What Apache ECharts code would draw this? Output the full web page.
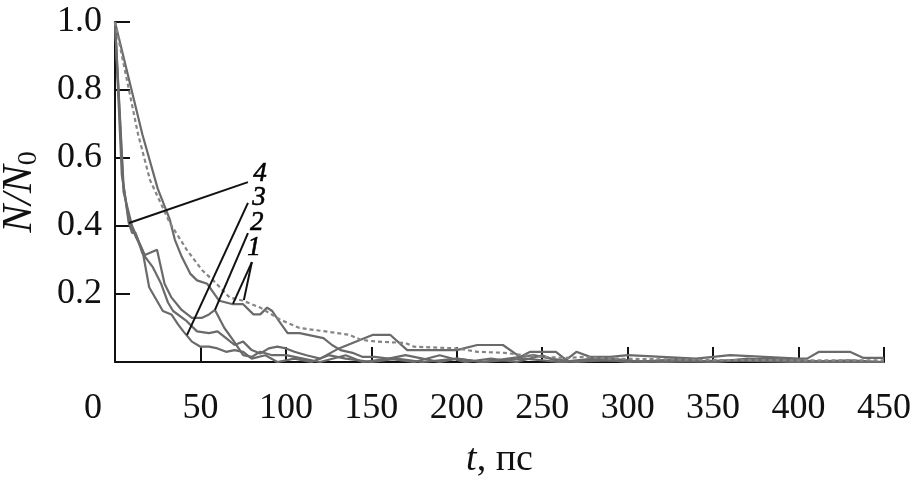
<!DOCTYPE html>
<html><head><meta charset="utf-8">
<script src="https://cdn.jsdelivr.net/npm/echarts@6/dist/echarts.min.js"></script>
<style>html,body{margin:0;padding:0;background:#fff}#c{width:916px;height:477px}</style>
</head><body><div id="c"></div>
<script>
// ---- data (t in ps, N/N0) ----
const xTicks = [0, 50, 100, 150, 200, 250, 300, 350, 400, 450];
const yTicks = [0.2, 0.4, 0.6, 0.8, 1.0];

// curve 1 (solid, slow)
const curve1Solid = [[0,1.0],[16,0.67],[25,0.51],[32,0.42],[35,0.36],[39,0.31],[44,0.26],[48,0.24],[54,0.23],[61,0.18],[69,0.17],[75,0.17],[81,0.14],[85,0.14],[89,0.16],[92,0.15],[96,0.12],[101,0.085],[108,0.085],[122,0.07],[127,0.05],[132,0.035],[139,0.027],[145,0.015],[152,0.015],[160,0.01],[170,0.02],[180,0.01],[190,0.0],[200,0.01],[215,0.0],[230,0.01],[245,0.02],[255,0.01],[270,0.0],[290,0.01],[310,0.0],[330,0.01],[350,0.0],[370,0.01],[400,0.0],[430,0.005],[450,0.0]];
// curve 1 (dashed)
const curve1Dashed = [[0,1.0],[13.5,0.67],[20.5,0.535],[32,0.41],[42,0.33],[51,0.27],[58.5,0.235],[67,0.19],[75,0.18],[85,0.16],[96.5,0.125],[108,0.10],[126,0.088],[137,0.08],[144,0.065],[153,0.06],[170,0.056],[175,0.045],[200,0.04],[212,0.03],[228,0.027],[239,0.02],[250,0.015],[264,0.012],[274,0.015],[290,0.01],[320,0.008],[350,0.006],[400,0.005],[450,0.005]];
// curve 2
const curve2 = [[0,1.0],[4,0.55],[8,0.42],[12,0.37],[17.5,0.315],[24.6,0.33],[29,0.23],[33,0.19],[39,0.153],[45,0.13],[51,0.13],[55,0.14],[58.5,0.153],[64,0.1],[69,0.065],[75,0.02],[80,0.015],[85,0.03],[92,0.02],[100,0.02],[110,0.01],[120,0.0],[135,0.02],[145,0.0],[160,0.01],[175,0.0],[190,0.02],[205,0.0],[220,0.01],[235,0.0],[250,0.02],[260,0.0],[280,0.01],[300,0.0],[320,0.005],[350,0.0],[380,0.01],[420,0.0],[450,0.0]];
// curve 3
const curve3 = [[0,1.0],[5,0.5],[10,0.4],[16,0.33],[20,0.22],[28,0.15],[33,0.14],[37,0.11],[40,0.09],[45,0.06],[50,0.045],[55,0.045],[60,0.04],[65,0.03],[70,0.035],[75,0.03],[80,0.01],[88,0.02],[95,0.0],[105,0.01],[115,0.0],[125,0.02],[135,0.01],[150,0.0],[165,0.01],[180,0.0],[200,0.01],[215,0.0],[240,0.01],[260,0.0],[290,0.005],[320,0.0],[360,0.005],[400,0.0],[450,0.0]];
// curve 4
const curve4 = [[0,1.0],[5,0.52],[8,0.41],[10,0.38],[12,0.38],[16,0.32],[22,0.28],[27,0.23],[31,0.175],[34,0.15],[42,0.12],[48,0.09],[55,0.085],[60,0.09],[65,0.07],[70,0.05],[75,0.06],[80,0.035],[85,0.025],[90,0.04],[95,0.045],[100,0.04],[105,0.03],[112,0.02],[120,0.01],[131,0.04],[151,0.08],[161,0.08],[171,0.035],[200,0.035],[212,0.05],[227,0.05],[237,0.015],[243,0.03],[258,0.03],[264,0.006],[270,0.03],[278,0.015],[290,0.015],[300,0.02],[320,0.015],[340,0.01],[360,0.02],[380,0.015],[400,0.01],[405,0.01],[412,0.03],[430,0.03],[438,0.012],[450,0.012]];

// curve labels and leader lines (data coordinates)
const curveNames = ['4', '3', '2', '1'];
const labelPos = [[84.8,0.553],[84.2,0.482],[83,0.409],[81.3,0.335]];
const leaders = [
  [[8.2,0.409],[77.8,0.529]],
  [[42.1,0.079],[77.8,0.468]],
  [[58.5,0.153],[77.8,0.379]],
  [[69,0.171],[80.1,0.294]],
  [[75.4,0.182],[80.1,0.294]]
];

const serif = '"Liberation Serif","Times New Roman",serif';
const gray = '#6a6a6a';
const chart = echarts.init(document.getElementById('c'));

function solid(data){
  return {type:'line', data, symbol:'none', silent:true, z:2,
    lineStyle:{color:gray, width:2.2}};
}

chart.setOption({
  animation:false,
  backgroundColor:'#fff',
  grid:{left:115, right:32, top:22, bottom:115, containLabel:false, outerBoundsMode:'none'},
  xAxis:{type:'value', min:0, max:450, interval:50,
    name:'{i|t}{r|, пс}', nameLocation:'middle', nameGap:79,
    nameTextStyle:{rich:{i:{fontFamily:serif, fontStyle:'italic', fontSize:38, color:'#111'}, r:{fontFamily:serif, fontSize:38, color:'#111'}}},
    axisLine:{lineStyle:{color:'#111', width:2}},
    axisTick:{inside:true, length:15, lineStyle:{color:'#111', width:2}},
    splitLine:{show:false},
    axisLabel:{margin:29, fontFamily:serif, fontSize:36, color:'#111',
      formatter:v => v === 0 ? '{z|0}' : String(v),
      rich:{z:{fontFamily:serif, fontSize:36, color:'#111', padding:[0,44,0,0]}}}
  },
  yAxis:{type:'value', min:0, max:1.0, interval:0.2,
    name:'{n|N/N}{s|0}', nameLocation:'middle', nameGap:72, nameRotate:90,
    nameTextStyle:{rich:{
      n:{fontFamily:serif, fontStyle:'italic', fontSize:42, color:'#111', lineHeight:46, verticalAlign:'middle'},
      s:{fontFamily:serif, fontSize:28, color:'#111', lineHeight:46, verticalAlign:'bottom', padding:[12,0,0,0]}}},
    axisLine:{lineStyle:{color:'#111', width:2}},
    axisTick:{inside:true, length:15, lineStyle:{color:'#111', width:2}},
    splitLine:{show:false},
    axisLabel:{margin:13, fontFamily:serif, fontSize:36, color:'#111', showMinLabel:false,
      formatter:v => yTicks.some(t => Math.abs(t - v) < 1e-6) ? v.toFixed(1) : ''}
  },
  series:[
    solid(curve4), solid(curve3), solid(curve2), solid(curve1Solid),
    {type:'line', data:curve1Dashed, symbol:'none', silent:true, z:2,
      lineStyle:{color:'#858585', width:2.2, type:[4,3]}},
    {type:'scatter', data:labelPos.map((p,i)=>({value:p, name:curveNames[i]})),
      symbolSize:0, silent:true, z:5,
      itemStyle:{opacity:1},
      label:{show:true, position:'inside', formatter:p=>p.name,
        fontFamily:serif, fontStyle:'italic', fontSize:27, color:'#000',
        textBorderColor:'#000', textBorderWidth:0.6},
      markLine:{silent:true, symbol:'none', animation:false,
        lineStyle:{color:'#111', width:2, type:'solid'},
        label:{show:false},
        data:leaders.map(l=>[{coord:l[0]},{coord:l[1]}])}
    }
  ]
});
</script></body></html>
